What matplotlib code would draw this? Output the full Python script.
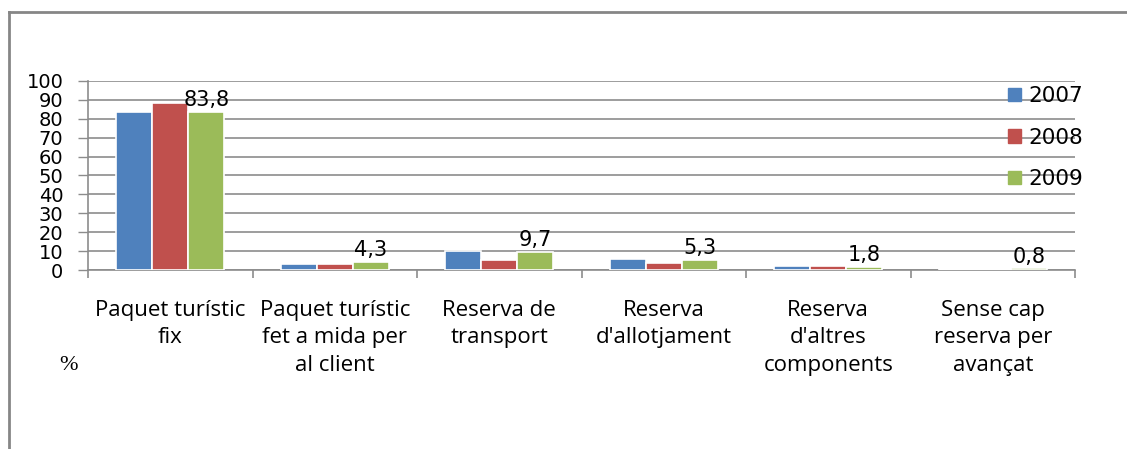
import matplotlib.pyplot as plt
from matplotlib.lines import Line2D
from matplotlib.patches import Patch
import numpy as np

# categories and values (%)
categories = ["Paquet turístic\nfix",
              "Paquet turístic\nfet a mida per\nal client",
              "Reserva de\ntransport",
              "Reserva\nd'allotjament",
              "Reserva\nd'altres\ncomponents",
              "Sense cap\nreserva per\navançat"]
years = ["2007", "2008", "2009"]
v2007 = [83.7, 3.4, 10.2, 5.9, 2.2, 0.6]
v2008 = [88.1, 3.4, 5.2, 3.9, 2.2, 0.6]
v2009 = [83.8, 4.3, 9.7, 5.3, 1.8, 0.8]
labels2009 = ["83,8", "4,3", "9,7", "5,3", "1,8", "0,8"]

colors = ["#4F81BD", "#C0504D", "#9BBB59"]
grid_c = "#8C8C8C"

W, H = 1127, 449
fig = plt.figure(figsize=(W / 100, H / 100), dpi=100)
ax = fig.add_axes([88 / W, (H - 270) / H, (1075 - 88) / W, (270 - 81) / H])

x = np.arange(len(categories))
bw = 0.219
for i, vals in enumerate([v2007, v2008, v2009]):
    ax.bar(x + (i - 1) * bw, vals, bw, color=colors[i], edgecolor="white",
           linewidth=1.2, zorder=3)

for xi, val, lab in zip(x, v2009, labels2009):
    ax.text(xi + bw, val + 1.0, lab, ha="center", va="bottom",
            fontsize=15, family="DejaVu Sans", zorder=4)

ax.set_xlim(-0.5, len(categories) - 0.5)
ax.set_ylim(0, 100)
ax.set_yticks(np.arange(0, 101, 10))
ax.set_yticklabels([str(t) for t in range(0, 101, 10)], fontsize=14,
                   family="DejaVu Sans")
ax.tick_params(axis="y", length=7.2, color=grid_c, pad=10.5, width=1)
ax.yaxis.grid(True, color=grid_c, linewidth=1.2, zorder=0)
ax.set_axisbelow(True)

ax.set_xticks(x)
ax.set_xticklabels(categories, fontsize=16, family="Open Sans",
                   linespacing=1.4)
ax.tick_params(axis="x", which="major", length=0, pad=21.5)
ax.set_xticks(np.arange(-0.5, len(categories)), minor=True)
ax.tick_params(axis="x", which="minor", length=6, color=grid_c, width=1.2)

for s in ["top", "right"]:
    ax.spines[s].set_visible(False)
for s in ["left", "bottom"]:
    ax.spines[s].set_color(grid_c)
    ax.spines[s].set_linewidth(1.2)

handles = [Patch(color=c) for c in colors]
fig.legend(handles, years, loc="upper left",
           bbox_to_anchor=(1008 / W, (H - 86) / H), frameon=False,
           prop={"family": "DejaVu Sans", "size": 15.5},
           handlelength=0.6, handleheight=0.6, handletextpad=0.35,
           labelspacing=1.0, borderpad=0, borderaxespad=0)

fig.text(68 / W, (H - 365) / H, "%", ha="center", va="center",
         fontsize=16, family="Liberation Serif")

# outer frame (top and left edges)
fig.add_artist(Line2D([9 / W, 1], [(H - 12) / H, (H - 12) / H],
                      transform=fig.transFigure, color="#868686", lw=2))
fig.add_artist(Line2D([9 / W, 9 / W], [0, (H - 12) / H],
                      transform=fig.transFigure, color="#868686", lw=2))

fig.savefig("out.png", dpi=100)
